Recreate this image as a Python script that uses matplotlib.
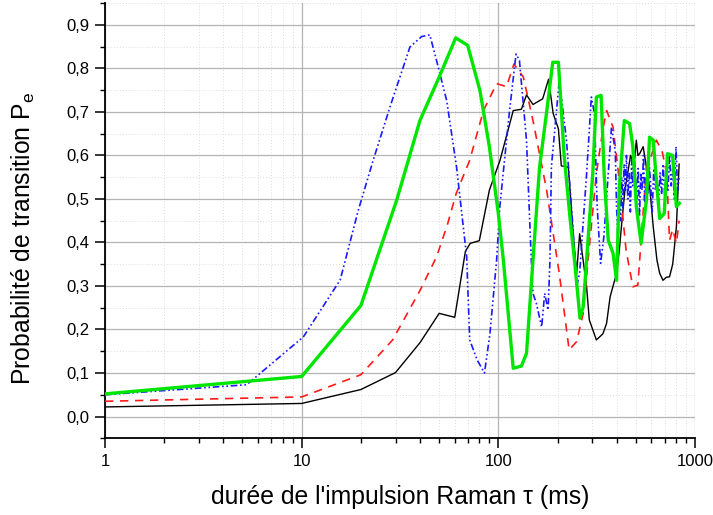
import matplotlib
matplotlib.use("Agg")
import matplotlib.pyplot as plt
from matplotlib.ticker import FuncFormatter, LogLocator, MultipleLocator, FixedLocator

plt.rcParams['font.family'] = ['Liberation Sans', 'DejaVu Sans']
plt.rcParams['mathtext.fontset'] = 'custom'
plt.rcParams['mathtext.rm'] = 'Liberation Sans'

# Pulse duration (ms) and transition probability for each simulated series
black_x = [1, 10, 20, 30, 40, 50, 60, 68, 72, 80, 90, 102, 119, 131, 139, 150, 168, 180,
           190, 202, 209, 227, 240, 250, 259, 281, 290, 315, 340, 355, 370, 399, 412, 427,
           440, 455, 470, 490, 503, 512, 523, 545, 566, 590, 613, 640, 661, 687, 715, 742,
           770, 804, 830]
black_y = [0.022, 0.030, 0.062, 0.101, 0.170, 0.237, 0.228, 0.380, 0.398, 0.404, 0.520,
           0.589, 0.703, 0.706, 0.739, 0.717, 0.730, 0.775, 0.696, 0.661, 0.576, 0.573,
           0.420, 0.329, 0.420, 0.298, 0.222, 0.176, 0.190, 0.214, 0.275, 0.329, 0.382,
           0.459, 0.520, 0.560, 0.600, 0.580, 0.635, 0.600, 0.604, 0.620, 0.573, 0.520,
           0.436, 0.360, 0.329, 0.313, 0.320, 0.321, 0.350, 0.436, 0.580]

red_x = [1, 10, 20, 29, 40, 48.5, 55, 61, 71.5, 84, 98, 110, 120, 134, 150, 176, 204, 229,
         250, 270, 290, 315, 340, 355, 383, 412, 446, 483, 512, 532, 566, 600, 636, 680,
         718, 742, 770, 804, 830]
red_y = [0.035, 0.045, 0.096, 0.176, 0.290, 0.367, 0.440, 0.512, 0.589, 0.703, 0.765,
         0.758, 0.810, 0.780, 0.680, 0.520, 0.329, 0.153, 0.172, 0.237, 0.390, 0.558,
         0.660, 0.703, 0.665, 0.543, 0.382, 0.298, 0.302, 0.405, 0.573, 0.600, 0.635,
         0.610, 0.558, 0.405, 0.430, 0.398, 0.450]

blue_x = [1, 5.25, 10.2, 15.7, 19.4, 23.1, 28.1, 35.5, 40.7, 44.8, 48.5, 54.6, 61.3, 69,
          71.5, 78, 85, 90.6, 98, 101.7, 114, 123, 128, 139, 147, 150, 156, 166, 172, 179,
          183, 186, 204, 222, 240, 250, 259, 281, 297, 308, 318, 331, 344, 362, 376, 393,
          399, 406, 412, 418, 424, 430, 436, 442, 448, 455, 462, 469, 476, 483, 490, 498,
          506, 514, 522, 530, 538, 547, 556, 565, 575, 585, 595, 606, 617, 628, 640, 652,
          664, 676, 689, 702, 715, 728, 742, 756, 770, 785, 800, 815, 830]
blue_y = [0.050, 0.073, 0.183, 0.314, 0.474, 0.589, 0.711, 0.849, 0.873, 0.877, 0.818,
          0.726, 0.573, 0.367, 0.176, 0.130, 0.100, 0.190, 0.360, 0.482, 0.703, 0.833,
          0.818, 0.635, 0.360, 0.283, 0.260, 0.206, 0.283, 0.245, 0.360, 0.573, 0.772,
          0.635, 0.428, 0.298, 0.330, 0.558, 0.734, 0.696, 0.482, 0.352, 0.413, 0.558,
          0.665, 0.610, 0.482, 0.405, 0.500, 0.450, 0.550, 0.480, 0.580, 0.520, 0.600,
          0.500, 0.560, 0.470, 0.590, 0.530, 0.610, 0.550, 0.500, 0.570, 0.460, 0.560,
          0.520, 0.600, 0.490, 0.550, 0.510, 0.580, 0.530, 0.470, 0.570, 0.520, 0.550,
          0.490, 0.560, 0.510, 0.580, 0.500, 0.550, 0.520, 0.600, 0.530, 0.570, 0.500,
          0.620, 0.520, 0.550]

green_x = [1, 10, 20, 30.4, 39.9, 50, 60.7, 69.8, 80.6, 90, 100, 106, 119, 131, 139, 150,
           162, 176, 189, 202, 216, 232, 245, 260, 270, 281, 302, 315, 333, 345, 362, 383,
           399, 412, 437, 465, 483, 503, 532, 566, 587, 613, 636, 661, 697, 725, 769, 804,
           832]
green_y = [0.052, 0.092, 0.255, 0.497, 0.680, 0.780, 0.870, 0.853, 0.749, 0.620, 0.466,
           0.360, 0.111, 0.116, 0.145, 0.360, 0.573, 0.700, 0.814, 0.814, 0.600, 0.451,
           0.350, 0.226, 0.252, 0.360, 0.558, 0.734, 0.738, 0.558, 0.405, 0.375, 0.313,
           0.527, 0.680, 0.673, 0.620, 0.482, 0.398, 0.497, 0.642, 0.635, 0.543, 0.455,
           0.466, 0.604, 0.600, 0.482, 0.490]

x_ticks = [1, 10, 100, 1000]
x_tick_labels = ["1", "10", "100", "1000"]

fig = plt.figure(figsize=(7.13, 5.15), dpi=100)
ax = fig.add_axes([0.1473, 0.149, 0.8275, 0.845])

ax.plot(black_x, black_y, color='black', lw=1.0, zorder=3)
ax.plot(red_x, red_y, color='#ff1a1a', lw=1.2, ls=(0, (5, 4)), zorder=3)
ax.plot(blue_x, blue_y, color='#1a1aff', lw=1.2, ls=(0, (4, 1.6, 1, 1.6, 1, 1.6)), zorder=3)
ax.plot(green_x, green_y, color='#00e600', lw=2.4, zorder=4)

ax.set_xscale('log')
ax.set_xlim(1, 1000)
ax.set_ylim(-0.05, 0.95)

ax.xaxis.set_major_locator(FixedLocator(x_ticks))
ax.set_xticklabels(x_tick_labels)
ax.xaxis.set_minor_locator(LogLocator(base=10, subs=range(2, 10)))
ax.xaxis.set_minor_formatter(FuncFormatter(lambda v, p: ""))

ax.yaxis.set_major_locator(FixedLocator([i / 10 for i in range(10)]))
ax.yaxis.set_minor_locator(MultipleLocator(0.05))
ax.yaxis.set_major_formatter(FuncFormatter(lambda v, p: f"{v:.1f}".replace('.', ',')))

ax.grid(True, which='major', color='#b4b4b4', lw=0.9, zorder=0)
ax.grid(True, which='minor', color='#dcdcdc', lw=0.7, ls=(0, (1, 2)), zorder=0)

for s in ('top', 'right'):
    ax.spines[s].set_visible(False)
for s in ('left', 'bottom'):
    ax.spines[s].set_linewidth(1.3)

ax.tick_params(which='major', direction='out', length=7, width=1.1, labelsize=12, pad=4)
ax.tick_params(which='minor', direction='out', length=3.6, width=1.0)

ax.set_xlabel("durée de l'impulsion Raman τ (ms)", fontsize=17.8, labelpad=12)
ax.set_ylabel("Probabilité de transition P$_{\\mathrm{e}}$", fontsize=17.8)
ax.yaxis.set_label_coords(-0.115, 0.46)

fig.savefig("out.png", dpi=100)
